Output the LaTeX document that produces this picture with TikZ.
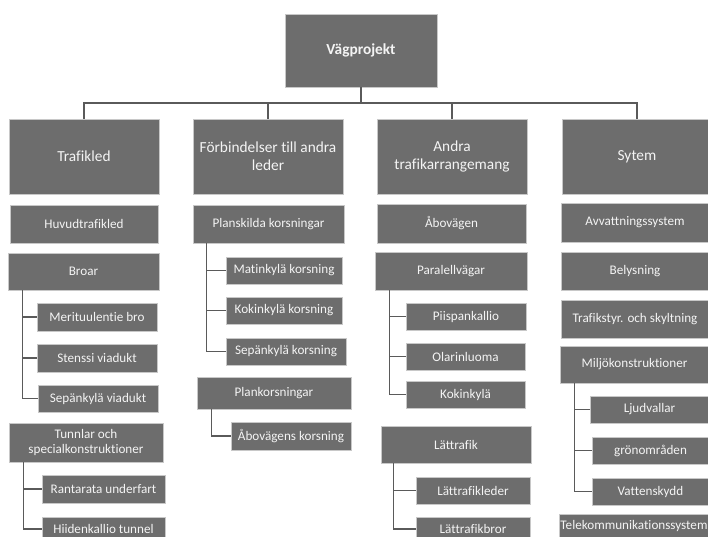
\documentclass[tikz,border=0pt]{standalone}
\usepackage{fontspec}
\setmainfont{Carlito}[Ligatures=CommonOff]
\definecolor{boxfill}{HTML}{6D6D6D}
\definecolor{boxedge}{HTML}{C8C8C8}
\definecolor{boxtext}{HTML}{F4F4F4}
\definecolor{linecol}{HTML}{5A5A5A}
\tikzset{
  box/.style={fill=boxfill, draw=boxedge, line width=0.7bp, text=boxtext,
    inner sep=0pt, align=center, font=\fontsize{13.2}{15.5}\selectfont},
  headbox/.style={box, minimum width=150bp, minimum height=75bp,
    font=\fontsize{15.4}{18.5}\selectfont},
  conn/.style={draw=linecol, line width=1.3bp},
}
\begin{document}
\begin{tikzpicture}[x=1bp, y=-1bp]
\useasboundingbox (0,0) rectangle (708,537);
\clip (0,0) rectangle (708,537);
\fill[white] (0,0) rectangle (708,537);

% root and main branches
\node[box, minimum width=152bp, minimum height=73bp,
  font=\fontsize{15.4}{18.5}\selectfont\bfseries] (root) at (361,50.5) {Vägprojekt};
\node[headbox] (traf)  at (84,156.5)  {Trafikled};
\node[headbox] (forb)  at (268,156.5) {Förbindelser till andra\\leder};
\node[headbox] (andra) at (452,156.5) {Andra\\trafikarrangemang};
\node[headbox] (sys)   at (637,156.5) {Sytem};

\coordinate (hub) at (361,103);
\draw[conn, line width=1.1bp] (root.south) -- (hub);
\draw[conn, line width=1.1bp] (traf.north) |- (hub) -| (sys.north);
\draw[conn, line width=1.1bp] (forb.north) -- (forb.north |- hub);
\draw[conn, line width=1.1bp] (andra.north) -- (andra.north |- hub);

% Trafikled
\node[box, minimum width=148bp, minimum height=38bp] (huvud) at (84,224) {Huvudtrafikled};
\node[box, minimum width=151bp, minimum height=37bp] (broar) at (83.5,271.5) {Broar};
\node[box, minimum width=120bp, minimum height=28bp] (meri) at (97,317) {Merituulentie bro};
\node[box, minimum width=120bp, minimum height=28bp] (sten) at (97,358) {Stenssi viadukt};
\node[box, minimum width=120bp, minimum height=27bp] (sepv) at (98,398.5) {Sepänkylä viadukt};
\node[box, minimum width=154bp, minimum height=39bp] (tunn) at (86,442.5) {Tunnlar och\\specialkonstruktioner};
\node[box, minimum width=123bp, minimum height=28bp] (rant) at (103.5,489) {Rantarata underfart};
\node[box, minimum width=123bp, minimum height=24bp] (hiid) at (103.5,529) {Hiidenkallio tunnel};

\coordinate (bx) at ([xshift=15bp]broar.south west);
\draw[conn] (bx) |- (sepv.west);
\draw[conn] (meri.west) -- (meri.west -| bx);
\draw[conn] (sten.west) -- (sten.west -| bx);
\coordinate (tx) at ([xshift=15bp]tunn.south west);
\draw[conn] (tx) |- (hiid.west);
\draw[conn] (rant.west) -- (rant.west -| tx);

% Förbindelser till andra leder
\node[box, minimum width=151bp, minimum height=38bp] (plans) at (268.5,224) {Planskilda korsningar};
\node[box, minimum width=116bp, minimum height=27bp] (mat) at (284,270.5) {Matinkylä korsning};
\node[box, minimum width=116bp, minimum height=27bp] (kok) at (284,310.5) {Kokinkylä korsning};
\node[box, minimum width=120bp, minimum height=27bp] (sepk) at (286,351.5) {Sepänkylä korsning};
\node[box, minimum width=154bp, minimum height=32bp] (plank) at (274,393) {Plankorsningar};
\node[box, minimum width=120bp, minimum height=28bp] (abok) at (291,436) {Åbovägens korsning};

\coordinate (px) at ([xshift=14bp]plans.south west);
\draw[conn] (px) |- (sepk.west);
\draw[conn] (mat.west) -- (mat.west -| px);
\draw[conn] (kok.west) -- (kok.west -| px);
\coordinate (kx) at ([xshift=15bp]plank.south west);
\draw[conn] (kx) |- (abok.west);

% Andra trafikarrangemang
\node[box, minimum width=149bp, minimum height=39bp] (abov) at (451.5,223.5) {Åbovägen};
\node[box, minimum width=152bp, minimum height=38bp] (paral) at (451,271) {Paralellvägar};
\node[box, minimum width=120bp, minimum height=27bp] (piis) at (466,316.5) {Piispankallio};
\node[box, minimum width=119bp, minimum height=27bp] (olar) at (465.5,356.5) {Olarinluoma};
\node[box, minimum width=119bp, minimum height=27bp] (kokk) at (465.5,394.5) {Kokinkylä};
\node[box, minimum width=150bp, minimum height=37bp] (latt) at (456,444.5) {Lättrafik};
\node[box, minimum width=114bp, minimum height=27bp] (lattl) at (473,490.5) {Lättrafikleder};
\node[box, minimum width=114bp, minimum height=24bp] (lattb) at (473,529) {Lättrafikbror};

\coordinate (ax) at ([xshift=15bp]paral.south west);
\draw[conn] (ax) |- (kokk.west);
\draw[conn] (piis.west) -- (piis.west -| ax);
\draw[conn] (olar.west) -- (olar.west -| ax);
\coordinate (lx) at ([xshift=13bp]latt.south west);
\draw[conn] (lx) |- (lattb.west);
\draw[conn] (lattl.west) -- (lattl.west -| lx);

% Sytem
\node[box, minimum width=148bp, minimum height=39bp] (avv) at (635,222.5) {Avvattningssystem};
\node[box, minimum width=148bp, minimum height=38bp] (bel) at (635,271) {Belysning};
\node[box, minimum width=148bp, minimum height=38bp] (trs) at (635,319) {Trafikstyr. och skyltning};
\node[box, minimum width=149bp, minimum height=37bp] (milj) at (634.5,364.5) {Miljökonstruktioner};
\node[box, minimum width=119bp, minimum height=27bp] (ljud) at (649.5,409.5) {Ljudvallar};
\node[box, minimum width=117bp, minimum height=27bp] (gron) at (650.5,450.5) {grönområden};
\node[box, minimum width=117bp, minimum height=27bp] (vatt) at (650.5,491.5) {Vattenskydd};
\node[box, minimum width=150bp, minimum height=24bp] (tele) at (634,526) {Telekommunikationssystem};

\coordinate (mx) at ([xshift=15bp]milj.south west);
\draw[conn] (mx) |- (vatt.west);
\draw[conn] (ljud.west) -- (ljud.west -| mx);
\draw[conn] (gron.west) -- (gron.west -| mx);
\end{tikzpicture}
\end{document}
